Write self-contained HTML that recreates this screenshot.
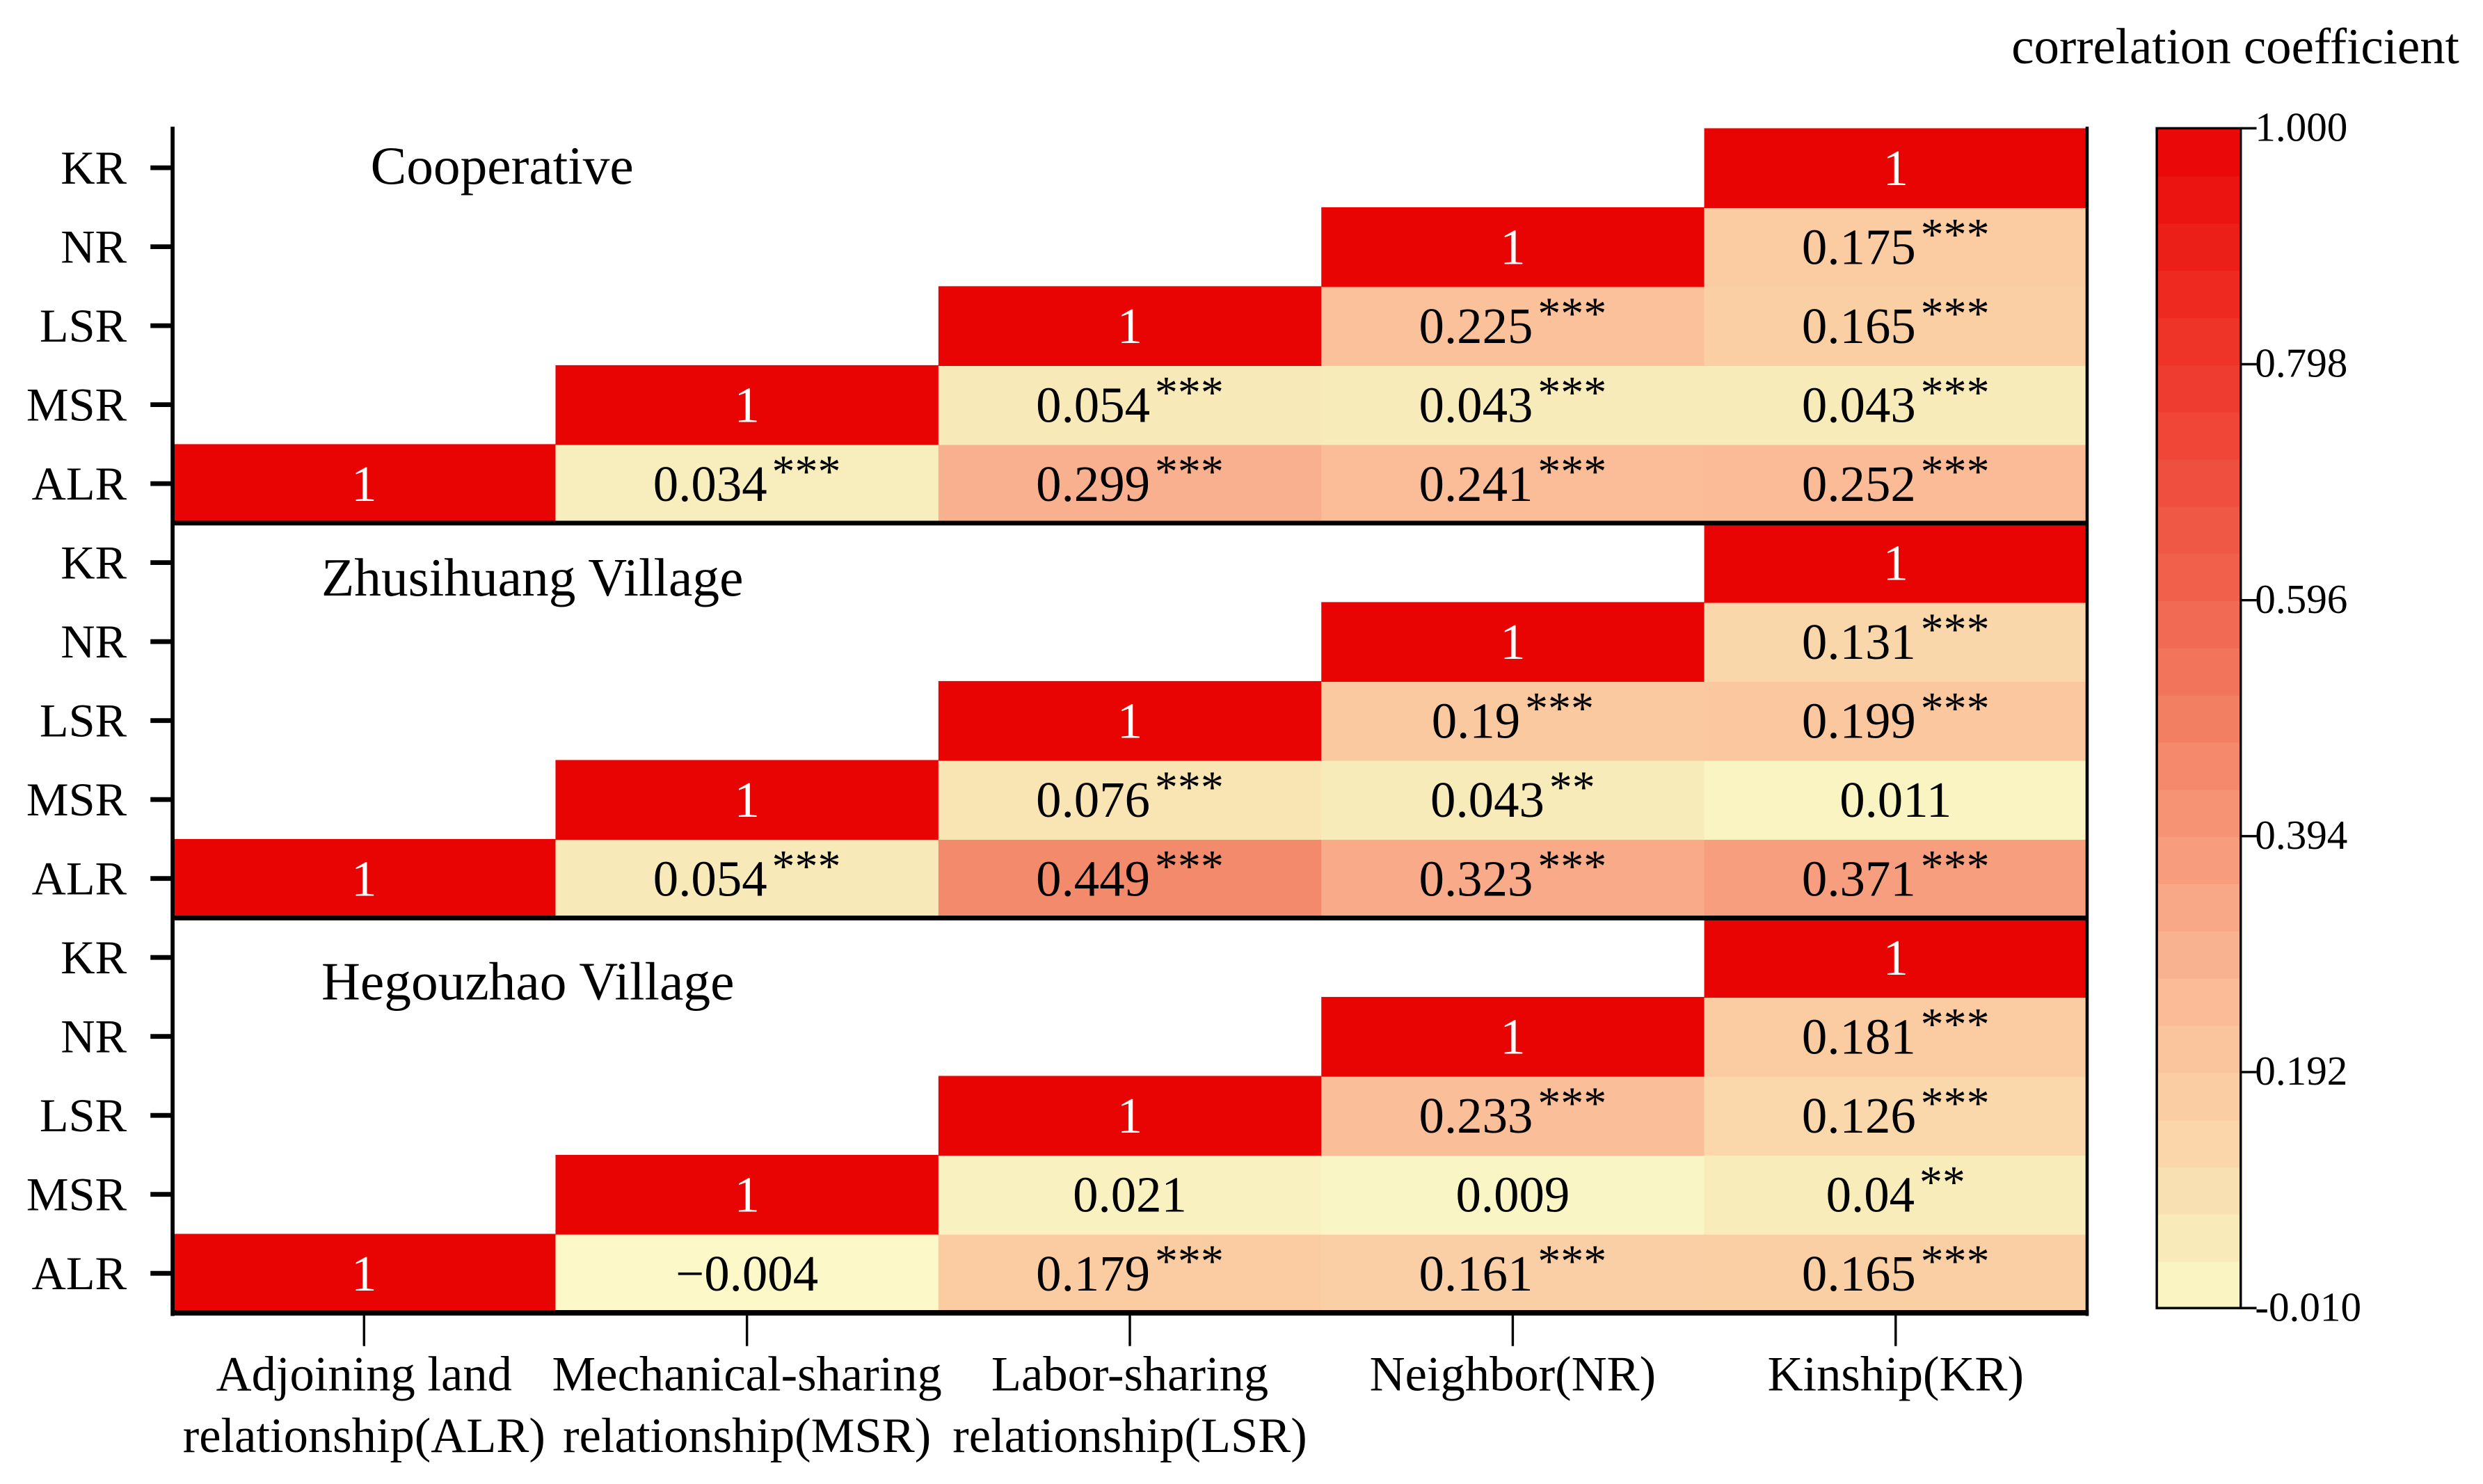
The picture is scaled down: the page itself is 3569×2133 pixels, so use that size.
<!DOCTYPE html>
<html><head><meta charset="utf-8">
<style>
html,body{margin:0;padding:0;background:#fff;}
svg{display:block;font-family:"Liberation Serif","Times New Roman",serif;}
</style></head>
<body>
<svg id="chart" width="3569" height="2133" viewBox="0 0 1568 937.1" preserveAspectRatio="none" xmlns="http://www.w3.org/2000/svg"></svg>
<script>
// ---- data ----
const rowLabels = ["ALR","MSR","LSR","NR","KR"];
const colLabels1 = ["Adjoining land","Mechanical-sharing","Labor-sharing","Neighbor(NR)","Kinship(KR)"];
const colLabels2 = ["relationship(ALR)","relationship(MSR)","relationship(LSR)","",""];
const panelTitles = ["Cooperative","Zhusihuang Village","Hegouzhao Village"];
// values[row][k] for columns row..4 (ALR first)
const coopValues = [[1,0.034,0.299,0.241,0.252],[1,0.054,0.043,0.043],[1,0.225,0.165],[1,0.175],[1]];
const coopStars  = [["","***","***","***","***"],["","***","***","***"],["","***","***"],["","***"],[""]];
const zhuValues  = [[1,0.054,0.449,0.323,0.371],[1,0.076,0.043,0.011],[1,0.19,0.199],[1,0.131],[1]];
const zhuStars   = [["","***","***","***","***"],["","***","**",""],["","***","***"],["","***"],[""]];
const hegValues  = [[1,-0.004,0.179,0.161,0.165],[1,0.021,0.009,0.04],[1,0.233,0.126],[1,0.181],[1]];
const hegStars   = [["","","***","***","***"],["","","","**"],["","***","***"],["","***"],[""]];
const colorbarTicks = [1.000,0.798,0.596,0.394,0.192,-0.010];
const vMin = -0.010, vMax = 1.000;

const panels = [[coopValues,coopStars],[zhuValues,zhuStars],[hegValues,hegStars]];
const NS="http://www.w3.org/2000/svg";
const svg=document.getElementById('chart');
function mk(tag,attrs,parent){const e=document.createElementNS(NS,tag);for(const k in attrs)e.setAttribute(k,attrs[k]);(parent||svg).appendChild(e);return e;}

const X0=109,X1=1318,Y0=81,Y1=829;
const colW=(X1-X0)/5, panelH=(Y1-Y0)/3, rowH=panelH/5;
const xCol=c=>X0+c*colW;
const yRow=(p,r)=>Y0+p*panelH+(4-r)*rowH;
const titleBase=[116,376,631];

const stops=[[-0.01,[252,250,201]],[0.04,[248,236,187]],[0.18,[251,203,161]],[0.3,[249,176,142]],[0.45,[244,138,108]],[0.6,[240,100,78]],[0.8,[238,56,44]],[1.0,[233,4,4]]];
function color(v){
  for(let i=0;i<stops.length-1;i++){
    const [a,ca]=stops[i],[b,cb]=stops[i+1];
    if(v<=b||i===stops.length-2){let t=Math.max(0,Math.min(1,(v-a)/(b-a)));
      return 'rgb('+ca.map((c,j)=>Math.round(c+(cb[j]-c)*t)).join(',')+')';}
  }
}

panels.forEach(([vals,stars],p)=>{
  const g=mk('g',{});
  
  
  vals.forEach((row,r)=>{
    row.forEach((v,k)=>{
      const c=r+k;
      const rect=mk('rect',{x:xCol(c),y:yRow(p,r),width:colW+0.5,height:rowH+0.5,fill:color(v)},g);
      
      
      const t=mk('text',{x:xCol(c)+colW/2,y:yRow(p,r)+rowH/2+11,'text-anchor':'middle','font-size':32,fill:v===1?'#fff':'#000'},g);
      
      
      const s1=mk('tspan',{},t);s1.textContent=(v<0?'\u2212'+Math.abs(v):String(v));
      const st=stars[r][k];
      if(st){const s2=mk('tspan',{dy:-9,dx:3,'font-size':29},t);s2.textContent=st;}
    });
  });
  const tt=mk('text',{x:p===0?234:203,y:titleBase[p],'font-size':34},g);
  
  
  tt.textContent=panelTitles[p];
  rowLabels.forEach((lab,r)=>{
    const yc=yRow(p,r)+rowH/2;
    mk('line',{x1:95,x2:X0,y1:yc,y2:yc,stroke:'#000','stroke-width':3});
    const lt=mk('text',{x:80,y:yc+10,'text-anchor':'end','font-size':30});
    
    
    lt.textContent=lab;
  });
});
mk('line',{x1:X0,x2:X0,y1:Y0-1,y2:Y1+2,stroke:'#000','stroke-width':2.5});
mk('line',{x1:X1,x2:X1,y1:Y0-1,y2:Y1+2,stroke:'#000','stroke-width':2});
[1,2].forEach(p=>mk('line',{x1:X0,x2:X1,y1:Y0+p*panelH,y2:Y0+p*panelH,stroke:'#000','stroke-width':3}));
mk('line',{x1:X0,x2:X1+1,y1:Y1,y2:Y1,stroke:'#000','stroke-width':3.5});
for(let c=0;c<5;c++){
  const xc=xCol(c)+colW/2;
  mk('line',{x1:xc,x2:xc,y1:Y1,y2:Y1+21,stroke:'#000','stroke-width':1.5});
  const t1=mk('text',{x:xc,y:878,'text-anchor':'middle','font-size':31});
  
  
  t1.textContent=colLabels1[c];
  if(colLabels2[c]){const t2=mk('text',{x:xc,y:917,'text-anchor':'middle','font-size':31});
    
    
    t2.textContent=colLabels2[c];}
}
const CBX=1362,CBW=53,CBT=81,CBB=826,steps=25;
const cb=mk('g',{});


for(let i=0;i<steps;i++){
  const v=vMin+(vMax-vMin)*(i+0.5)/steps;
  const h=(CBB-CBT)/steps;
  mk('rect',{x:CBX,y:CBB-(i+1)*h,width:CBW,height:h+0.6,fill:color(v)},cb);
}
mk('rect',{x:CBX,y:CBT,width:CBW,height:CBB-CBT,fill:'none',stroke:'#000','stroke-width':1.5},cb);
const cbY=v=>CBB-(v-vMin)/(vMax-vMin)*(CBB-CBT);
colorbarTicks.forEach(v=>{
  const y=cbY(v);
  mk('line',{x1:CBX+CBW,x2:CBX+CBW+10,y1:y,y2:y,stroke:'#000','stroke-width':1.5},cb);
  const t=mk('text',{x:1424,y:y+8,'font-size':26},cb);
  
  
  t.textContent=v.toFixed(3);
});
const ct=mk('text',{x:1553,y:40,'text-anchor':'end','font-size':32});


ct.textContent='correlation coefficient';
</script>
</body></html>
